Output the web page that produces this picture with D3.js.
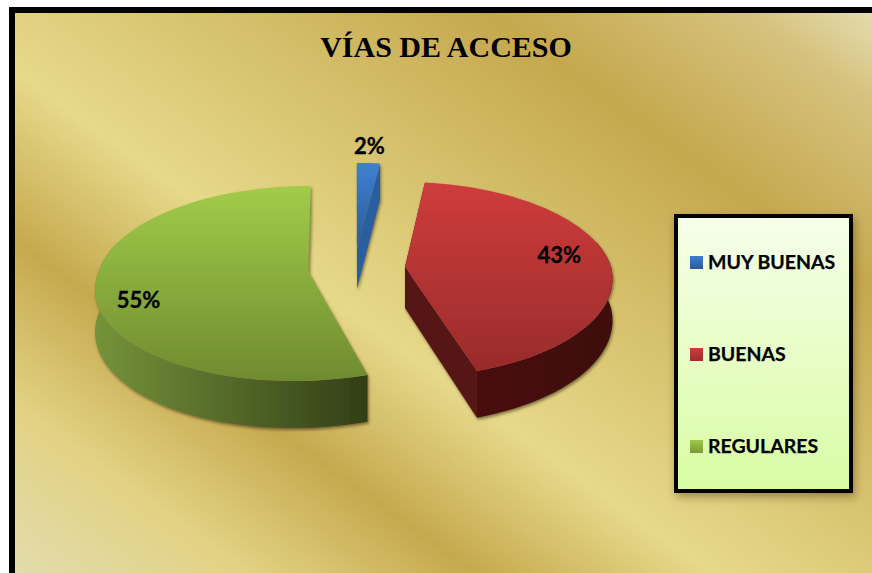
<!DOCTYPE html>
<html><head><meta charset="utf-8">
<script src="https://cdn.jsdelivr.net/npm/d3@7"></script>
<style>html,body{margin:0;padding:0;background:#fff;overflow:hidden}svg{display:block}</style>
</head><body><svg id="c" width="872" height="573"></svg>
<script>
// DATA
const categories = ["MUY BUENAS", "BUENAS", "REGULARES"];
const percentages = [2, 43, 55];
const chartTitle = "VÍAS DE ACCESO";

// STYLE / LAYOUT
const topColors = [["#3f80d0", "#2a5c9c"], ["#cf3c3c", "#992b2b"], ["#a2cc4a", "#6f8b30"]];
const wallColors = [["#2b5f9f", "#2b5f9f"], ["#4c1212", "#3f0e0e"], ["#75933a", "#323e17"]];
const cutColors = ["#2b5f9f", "#561717", "#7f9c3a"];
const swatchColors = [["#3d7fce", "#2a5c9c"], ["#cd3c3c", "#a02d2d"], ["#9fc848", "#7a9a36"]];
const explode = [[3, -20], [51, -1], [-46, 3]];
const radiusX = [209, 206, 209];
const frontLean = -8;
const labelSpot = [{r: 1.2, dx: -1, dy: -2}, {r: .75, dx: 2, dy: -5}, {r: .8, dx: 0, dy: 17}];
const center = {x: 354, y: 268}, Rz = 96, persp = 0.128, depth = 41;

const svg = d3.select("#c");
const defs = svg.append("defs");
function grad(id, c0, c1, horiz, x1, x2) {
  const g = defs.append("linearGradient").attr("id", id);
  if (horiz) g.attr("gradientUnits", "userSpaceOnUse").attr("x1", x1).attr("x2", x2).attr("y1", 0).attr("y2", 0);
  else g.attr("x1", 0).attr("x2", 0).attr("y1", 0).attr("y2", 1);
  g.append("stop").attr("offset", 0).attr("stop-color", c0);
  g.append("stop").attr("offset", 1).attr("stop-color", c1);
}
// gold background, bands run from upper left to lower right
const bg = defs.append("linearGradient").attr("id", "gold").attr("gradientUnits", "userSpaceOnUse")
  .attr("x1", -285).attr("y1", 395).attr("x2", 304).attr("y2", -422);
[[.02, "#e3dcb0"], [.166, "#e2d283"], [.298, "#c6a94f"], [.435, "#e6d98a"], [.758, "#c5a84e"], [.906, "#d6c27e"], [.99, "#e6dfb5"]]
  .forEach(s => bg.append("stop").attr("offset", s[0]).attr("stop-color", s[1]));
const f = defs.append("filter").attr("id", "sh").attr("x", "-10%").attr("y", "-10%").attr("width", "125%").attr("height", "125%");
f.append("feDropShadow").attr("dx", 1).attr("dy", 2).attr("stdDeviation", 1.6).attr("flood-color", "#3a2c08").attr("flood-opacity", .6);
const f2 = defs.append("filter").attr("id", "sh2").attr("x", "-10%").attr("y", "-10%").attr("width", "125%").attr("height", "125%");
f2.append("feDropShadow").attr("dx", 2).attr("dy", 4).attr("stdDeviation", 4).attr("flood-color", "#3a2c08").attr("flood-opacity", .4);

// chart area (its right and bottom edges run off the picture)
svg.append("rect").attr("x", 12).attr("y", 10).attr("width", 900).attr("height", 600)
  .attr("fill", "url(#gold)").attr("stroke", "#000").attr("stroke-width", 6);

svg.append("text").attr("x", 446).attr("y", 57).attr("text-anchor", "middle")
  .attr("font-family", "Liberation Serif").attr("font-weight", 700).attr("font-size", 30).attr("fill", "#000")
  .text(chartTitle);

const pie = d3.pie().sort(null).startAngle(0).endAngle(2 * Math.PI);
const arcs = pie(percentages);

function project(i, a, r, h) {
  const u = r * Math.sin(a), v = -r * Math.cos(a);
  const [ex, ey] = explode[i];
  const w = 1 - persp * v;
  return [center.x + ex / (w > 1 ? Math.sqrt(w) : w) + radiusX[i] * u / w + frontLean * Math.max(v, 0),
          center.y + ey + (Rz * v + h * depth) / w];
}
const line = d3.line();
const sampled = d => d3.range(0, 61).map(j => d.startAngle + (d.endAngle - d.startAngle) * j / 60);

arcs.forEach((d, i) => {
  const g = svg.append("g").attr("filter", "url(#sh)");
  const ang = sampled(d);
  const topRim = ang.map(a => project(i, a, 1, 0));
  // only the part of the rim that faces the viewer gets an outer wall
  const wallAng = ang.filter(a => -Math.cos(a) > -0.3);
  const wallTop = wallAng.map(a => project(i, a, 1, 0));
  const wallBot = wallAng.map(a => project(i, a, 1, 1));
  const xs = topRim.map(p => p[0]);
  grad("wall" + i, wallColors[i][0], wallColors[i][1], true, d3.min(xs), d3.max(xs));
  grad("top" + i, topColors[i][0], topColors[i][1]);
  [d.startAngle, d.endAngle].forEach(a => {
    g.append("path").attr("fill", cutColors[i]).attr("d", line([
      project(i, a, 0, 0), project(i, a, 1, 0), project(i, a, 1, 1), project(i, a, 0, 1)
    ]) + "Z");
  });
  if (wallAng.length > 1)
    g.append("path").attr("d", line(wallTop.concat(wallBot.reverse())) + "Z").attr("fill", "url(#wall" + i + ")");
  g.append("path").attr("fill", "url(#top" + i + ")")
    .attr("d", line([project(i, 0, 0, 0)].concat(topRim)) + "Z");
});

// data labels
arcs.forEach((d, i) => {
  const s = labelSpot[i];
  const p = project(i, (d.startAngle + d.endAngle) / 2, s.r, 0);
  svg.append("text").attr("x", p[0] + s.dx).attr("y", p[1] + s.dy + 8).attr("text-anchor", "middle")
    .attr("font-family", "Lato").attr("font-weight", 700).attr("font-size", 22).attr("fill", "#000")
    .attr("stroke", "#000").attr("stroke-width", .3)
    .text(d.data + "%");
});

// legend
const legend = svg.append("g");
categories.forEach((c, i) => grad("sw" + i, swatchColors[i][0], swatchColors[i][1]));
grad("lg", "#f6ffea", "#d9fca4");
legend.append("rect").attr("x", 676).attr("y", 216).attr("width", 175).attr("height", 275)
  .attr("fill", "url(#lg)").attr("stroke", "#000").attr("stroke-width", 4).attr("filter", "url(#sh2)");
const ly = d3.scalePoint().domain(categories).range([262.5, 446.5]);
categories.forEach((c, i) => {
  legend.append("rect").attr("x", 690).attr("y", ly(c) - 6.5).attr("width", 13).attr("height", 13).attr("fill", "url(#sw" + i + ")");
  legend.append("text").attr("x", 708).attr("y", ly(c) + 6.5).attr("font-family", "Lato").attr("font-weight", 700)
    .attr("font-size", 19.5).attr("stroke", "#000").attr("stroke-width", .25).attr("fill", "#000").text(c);
});
</script></body></html>
